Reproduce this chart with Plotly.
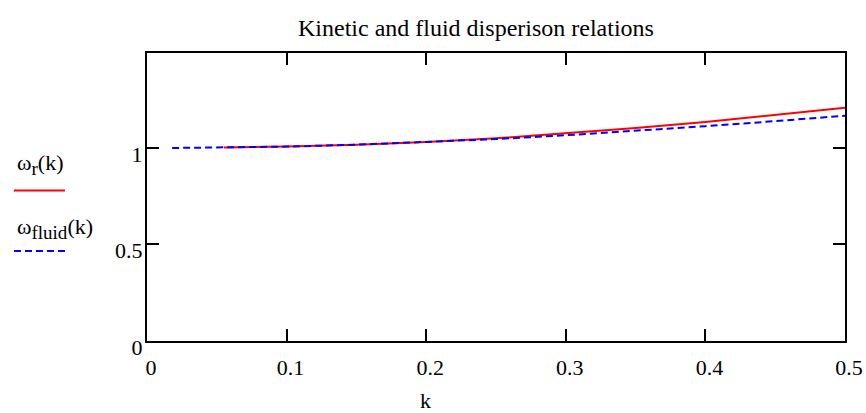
import plotly.graph_objects as go

# Data
k_kinetic = [0.055, 0.1, 0.15, 0.2, 0.25, 0.3, 0.35, 0.4, 0.45, 0.5]
omega_r = [1.002, 1.007, 1.017, 1.031, 1.050, 1.075, 1.103, 1.135, 1.170, 1.208]

k_fluid = [0.018, 0.05, 0.1, 0.15, 0.2, 0.25, 0.3, 0.35, 0.4, 0.45, 0.5]
omega_fluid = [1.000, 1.002, 1.007, 1.017, 1.030, 1.046, 1.066, 1.088, 1.113, 1.139, 1.167]

x_ticks = [0, 0.1, 0.2, 0.3, 0.4, 0.5]
x_ticklabels = ["0", "0.1", "0.2", "0.3", "0.4", "0.5"]
y_ticks = [0, 0.5, 1]
y_ticklabels = ["0", "0.5", "1"]

title_text = "Kinetic and fluid disperison relations"
x_title = "k"
label_r = "ω<sub><span style='font-size:19px'>r</span></sub>(k)"
label_fluid = "ω<sub><span style='font-size:19px'>fluid</span></sub>(k)"

FONT = "Liberation Serif, Times New Roman, serif"
FS = 22

fig = go.Figure()
fig.add_trace(go.Scatter(x=k_kinetic, y=omega_r, mode="lines",
                         line=dict(color="#ff0000", width=2), showlegend=False))
fig.add_trace(go.Scatter(x=k_fluid, y=omega_fluid, mode="lines",
                         line=dict(color="#0000ff", width=2, dash="7px,4px"), showlegend=False))

W, H = 866, 413
L, T = 147, 53
R = W - 845
B = H - 341

pw = W - L - R
ph = H - T - B

def px(xp):
    return (xp - L) / pw

def py(yp):
    return (H - B - yp) / ph

fig.update_layout(
    width=W, height=H,
    margin=dict(l=L, r=R, t=T, b=B, pad=0),
    paper_bgcolor="white", plot_bgcolor="white",
    font=dict(family=FONT, size=FS, color="black"),
    xaxis=dict(range=[0, 0.5], tickvals=x_ticks, ticktext=x_ticklabels,
               ticks="inside", ticklen=12, tickwidth=2, tickcolor="black",
               showline=True, linecolor="black", linewidth=2, mirror="ticks",
               showgrid=False, zeroline=False, ticklabelstandoff=6, ticklabelshift=4,
               ticklabeloverflow="allow", automargin=False),
    yaxis=dict(range=[0, 1.492], tickvals=y_ticks, ticktext=y_ticklabels,
               ticks="inside", ticklen=12, tickwidth=2, tickcolor="black",
               showline=True, linecolor="black", linewidth=2, mirror="ticks",
               showgrid=False, zeroline=False, ticklabelstandoff=-2, ticklabelshift=6,
               ticklabeloverflow="allow", automargin=False),
    annotations=[
        dict(text=title_text, x=px(476), y=py(28), xref="paper", yref="paper",
             showarrow=False, xanchor="center", yanchor="middle", font=dict(size=24)),
        dict(text=x_title, x=px(425), y=py(400), xref="paper", yref="paper",
             showarrow=False, xanchor="center", yanchor="middle"),
        dict(text=label_r, x=px(15), y=py(164), xref="paper", yref="paper",
             showarrow=False, xanchor="left", yanchor="middle"),
        dict(text=label_fluid, x=px(15), y=py(228), xref="paper", yref="paper",
             showarrow=False, xanchor="left", yanchor="middle"),
    ],
    shapes=[
        dict(type="line", xref="paper", yref="paper", x0=px(14), x1=px(65),
             y0=py(190.5), y1=py(190.5), line=dict(color="#ff0000", width=2)),
        dict(type="line", xref="paper", yref="paper", x0=px(14), x1=px(66),
             y0=py(251), y1=py(251), line=dict(color="#0000ff", width=2, dash="7px,4px")),
    ],
)

fig.write_html(
    "out.html",
    config={"displayModeBar": False},
    post_script=(
        "document.body.style.margin='0';"
        "document.body.style.overflow='hidden';"
        "document.documentElement.style.overflow='hidden';"
    ),
)
